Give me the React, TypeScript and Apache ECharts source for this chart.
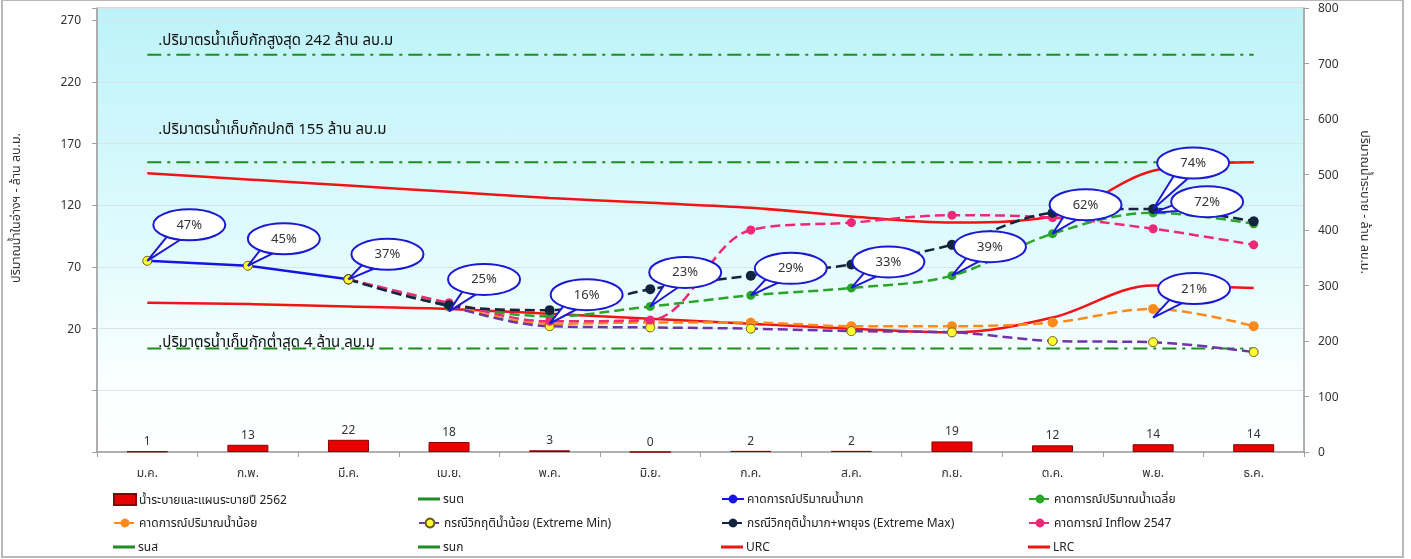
import React, { useEffect, useRef } from "react";
import * as echarts from "echarts";

// ---------- data ----------
const months = ["ม.ค.", "ก.พ.", "มี.ค.", "เม.ย.", "พ.ค.", "มิ.ย.", "ก.ค.", "ส.ค.", "ก.ย.", "ต.ค.", "พ.ย.", "ธ.ค."];
const release2562 = [1, 13, 22, 18, 3, 0, 2, 2, 19, 12, 14, 14];
const actualStorage = [75, 71, 60, null, null, null, null, null, null, null, null, null];
const extremeMax = [null, null, 60, 39, 35, 52, 63, 72, 88, 114, 117, 107];
const forecastAvg = [null, null, 60, 40, 30, 38, 47, 53, 63, 97, 114, 105];
const forecastLow = [null, null, 60, 39, 24, 25, 25, 22, 22, 25, 36, 22];
const extremeMin = [null, null, 60, 38, 22, 21, 20, 18, 17, 10, 9, 1];
const inflow2547 = [null, null, 60, 41, 26, 27, 100, 106, 112, 110, 101, 88];
const urc = [146, 141, 136, 131, 126, 122, 118, 111, 106, 111, 148, 155];
const lrc = [41, 40, 38, 36, 32, 28, 24, 20, 17, 29, 55, 53];
const rnsMax = [242, 242, 242, 242, 242, 242, 242, 242, 242, 242, 242, 242];
const rnkNormal = [155, 155, 155, 155, 155, 155, 155, 155, 155, 155, 155, 155];
const rntMin = [4, 4, 4, 4, 4, 4, 4, 4, 4, 4, 4, 4];

const bubbleMonths = [0, 1, 2, 3, 4, 5, 6, 7, 8, 9, 10, 10, 10];
const bubbleValues = [75, 71, 60, 34, 24, 38, 47, 53, 63, 97, 117, 114, 29];
const bubbleLabels = ["47%", "45%", "37%", "25%", "16%", "23%", "29%", "33%", "39%", "62%", "74%", "72%", "21%"];

const leftTicks = [20, 70, 120, 170, 220, 270];

const refTexts = [
  ".ปริมาตรน้ำเก็บกักสูงสุด 242 ล้าน ลบ.ม",
  ".ปริมาตรน้ำเก็บกักปกติ 155 ล้าน ลบ.ม",
  ".ปริมาตรน้ำเก็บกักต่ำสุด 4 ล้าน ลบ.ม",
];
const leftAxisName = "ปริมาณน้ำในอ่างฯ - ล้าน ลบ.ม.";
const rightAxisName = "ปริมาณน้ำระบาย - ล้าน ลบ.ม.";

// ---------- layout (pixel offsets, not data) ----------
const bubbleOffsets = [
  [42, -36], [36, -27], [39, -25], [35, -32], [37, -29], [35, -34], [40, -27],
  [37, -26], [38, -29], [33, -29], [40, -46], [54, -11], [41, -29],
];
const refTextDy = [-14, -33, -6];

const FONT = "Tahoma, 'Noto Sans Thai', 'Leelawadee UI', 'DejaVu Sans', 'Noto Sans', sans-serif";
const DASH_DOT = [14, 6, 3, 6];
const LINE_ICON = "path://M0,0H22V3H0Z";

const C = {
  bar: "#e80000",
  green: "#1e8c1e",
  blue: "#1414e6",
  navy: "#132440",
  avg: "#2aa52a",
  orange: "#ff8a1c",
  purple: "#6f35a8",
  pink: "#ec2a78",
  red: "#f01414",
  yellow: "#ffff33",
};

export default function App() {
  const ref = useRef<HTMLDivElement>(null);

  useEffect(() => {
    const chart = echarts.init(ref.current as HTMLDivElement, null, { renderer: "svg" });

    const lineSeries = (name: string, data: any[], color: string, opts: any = {}) => ({
      name,
      type: "line",
      data,
      yAxisIndex: 0,
      smooth: 0.35,
      symbol: "circle",
      symbolSize: 9,
      connectNulls: false,
      lineStyle: { color, width: 2.5, type: "dashed" },
      itemStyle: { color },
      ...opts,
    });

    const refLine = (name: string, data: number[]) => ({
      name,
      type: "line",
      data,
      yAxisIndex: 0,
      symbol: "none",
      lineStyle: { color: C.green, width: 2, type: DASH_DOT },
      itemStyle: { color: C.green },
      silent: true,
    });

    const legendItems = [
      { name: "น้ำระบายและแผนระบายปี 2562", left: 113, top: 493, icon: "rect" },
      { name: "รนต", left: 418, top: 493, icon: LINE_ICON },
      { name: "คาดการณ์ปริมาณน้ำมาก", left: 721, top: 493 },
      { name: "คาดการณ์ปริมาณน้ำเฉลี่ย", left: 1028, top: 493 },
      { name: "คาดการณ์ปริมาณน้ำน้อย", left: 113, top: 517 },
      { name: "กรณีวิกฤติน้ำน้อย (Extreme Min)", left: 418, top: 517 },
      { name: "กรณีวิกฤติน้ำมาก+พายุจร (Extreme Max)", left: 721, top: 517 },
      { name: "คาดการณ์ Inflow 2547", left: 1028, top: 517 },
      { name: "รนส", left: 113, top: 541, icon: LINE_ICON },
      { name: "รนก", left: 418, top: 541, icon: LINE_ICON },
      { name: "URC", left: 721, top: 541, icon: LINE_ICON },
      { name: "LRC", left: 1028, top: 541, icon: LINE_ICON },
    ];

    const legends = legendItems.map((it) => {
      const d: any = { name: it.name };
      if (it.icon) d.icon = it.icon;
      return {
        data: [d],
        left: it.left,
        top: it.top,
        itemWidth: 22,
        itemHeight: 11,
        itemGap: 0,
        padding: 0,
        selectedMode: false,
        textStyle: { fontFamily: FONT, fontSize: 12, color: "#222", padding: [0, 0, 0, -2] },
      };
    });

    const bubbleData = bubbleMonths.map((m, i) => [m, bubbleValues[i], bubbleLabels[i]]);

    const option: any = {
      animation: false,
      textStyle: { fontFamily: FONT },
      grid: {
        left: 97,
        right: 107,
        top: 8,
        bottom: 107,
        show: true,
        borderColor: "#b4b4b4",
        borderWidth: 1,
        backgroundColor: {
          type: "linear",
          x: 0, y: 0, x2: 0, y2: 1,
          colorStops: [
            { offset: 0, color: "#bcf3f9" },
            { offset: 0.55, color: "#e2fbfd" },
            { offset: 0.85, color: "#fbffff" },
            { offset: 1, color: "#ffffff" },
          ],
        },
      },
      legend: legends,
      xAxis: {
        type: "category",
        data: months,
        boundaryGap: true,
        axisLine: { onZero: false, lineStyle: { color: "#a0a0a0", width: 1.5 } },
        axisTick: { show: true, length: 5, lineStyle: { color: "#a0a0a0" } },
        axisLabel: { fontFamily: FONT, fontSize: 12, color: "#333", margin: 15 },
      },
      yAxis: [
        {
          type: "value",
          min: -80,
          max: 280,
          interval: 50,
          position: "left",
          axisLine: { show: true, onZero: false, lineStyle: { color: "#a0a0a0", width: 1.5 } },
          axisTick: { show: true, length: 5, lineStyle: { color: "#a0a0a0" } },
          axisLabel: {
            fontFamily: FONT,
            fontSize: 12,
            color: "#333",
            margin: 16,
            formatter: (v: number) => (leftTicks.includes(v) ? String(v) : ""),
          },
          splitLine: { show: true, lineStyle: { color: "#d8e4e6", width: 1 } },
        },
        {
          type: "value",
          min: 0,
          max: 800,
          interval: 100,
          position: "right",
          axisLine: { show: true, onZero: false, lineStyle: { color: "#a0a0a0", width: 1.5 } },
          axisTick: { show: true, length: 5, lineStyle: { color: "#a0a0a0" } },
          axisLabel: { fontFamily: FONT, fontSize: 12, color: "#333", margin: 14 },
          splitLine: { show: false },
        },
      ],
      series: [
        {
          name: "น้ำระบายและแผนระบายปี 2562",
          type: "bar",
          yAxisIndex: 1,
          data: release2562,
          barWidth: 41,
          itemStyle: { color: C.bar, borderColor: "#8a0000", borderWidth: 1 },
          label: { show: true, position: "top", distance: 4, fontFamily: FONT, fontSize: 12, color: "#333" },
        },
        refLine("รนส", rnsMax),
        refLine("รนก", rnkNormal),
        refLine("รนต", rntMin),
        {
          name: "URC",
          type: "line",
          yAxisIndex: 0,
          data: urc,
          smooth: 0.35,
          symbol: "none",
          lineStyle: { color: C.red, width: 2.5 },
          itemStyle: { color: C.red },
        },
        {
          name: "LRC",
          type: "line",
          yAxisIndex: 0,
          data: lrc,
          smooth: 0.35,
          symbol: "none",
          lineStyle: { color: C.red, width: 2.5 },
          itemStyle: { color: C.red },
        },
        lineSeries("คาดการณ์ปริมาณน้ำน้อย", forecastLow, C.orange, { symbolSize: 10 }),
        lineSeries("กรณีวิกฤติน้ำน้อย (Extreme Min)", extremeMin, C.purple, {
          itemStyle: { color: C.yellow, borderColor: "#6b5a1a", borderWidth: 1 },
          symbolSize: 9,
        }),
        lineSeries("คาดการณ์ปริมาณน้ำเฉลี่ย", forecastAvg, C.avg),
        lineSeries("คาดการณ์ Inflow 2547", inflow2547, C.pink),
        lineSeries("กรณีวิกฤติน้ำมาก+พายุจร (Extreme Max)", extremeMax, C.navy, { symbolSize: 10 }),
        {
          name: "คาดการณ์ปริมาณน้ำมาก",
          type: "line",
          yAxisIndex: 0,
          data: actualStorage.map((v) =>
            v == null ? null : { value: v, itemStyle: { color: C.yellow, borderColor: "#6b5a1a", borderWidth: 1 } }
          ),
          smooth: false,
          symbol: "circle",
          symbolSize: 9,
          lineStyle: { color: C.blue, width: 2.5, type: "solid" },
          itemStyle: { color: C.blue },
        },
        {
          name: "bubbles",
          type: "custom",
          yAxisIndex: 0,
          z: 10,
          silent: true,
          clip: false,
          data: bubbleData,
          encode: { x: 0, y: 1 },
          renderItem: (params: any, api: any) => {
            const i = params.dataIndex;
            const p = api.coord([api.value(0), api.value(1)]);
            const off = bubbleOffsets[i];
            const cx = p[0] + off[0];
            const cy = p[1] + off[1];
            const rx = 36;
            const ry = 15.5;
            const ang = Math.atan2((p[1] - cy) / ry, (p[0] - cx) / rx);
            const a1 = ang - 0.24;
            const a2 = ang + 0.24;
            const b1 = [cx + rx * 0.92 * Math.cos(a1), cy + ry * 0.92 * Math.sin(a1)];
            const b2 = [cx + rx * 0.92 * Math.cos(a2), cy + ry * 0.92 * Math.sin(a2)];
            const stroke = "#1a1ad2";
            return {
              type: "group",
              children: [
                { type: "polygon", shape: { points: [b1, p, b2] }, style: { fill: "#fff", stroke, lineWidth: 2 } },
                { type: "ellipse", shape: { cx, cy, rx, ry }, style: { fill: "#fff", stroke, lineWidth: 2 } },
                { type: "polygon", shape: { points: [b1, [p[0] * 0.15 + cx * 0.85, p[1] * 0.15 + cy * 0.85], b2] }, style: { fill: "#fff" } },
                {
                  type: "text",
                  style: {
                    text: bubbleLabels[i],
                    x: cx,
                    y: cy,
                    align: "center",
                    verticalAlign: "middle",
                    fontFamily: FONT,
                    fontSize: 13,
                    fill: "#333",
                  },
                },
              ],
            };
          },
        },
      ],
    };

    chart.setOption(option);

    const refVals = [rnsMax[0], rnkNormal[0], rntMin[0]];
    const texts = refVals.map((v, i) => {
      const p = chart.convertToPixel({ xAxisIndex: 0, yAxisIndex: 0 }, [0, v]) as number[];
      return {
        type: "text",
        x: p[0] + 11,
        y: p[1] + refTextDy[i],
        z: 20,
        style: {
          text: refTexts[i],
          fontFamily: FONT,
          fontSize: 15,
          fill: "#111",
          verticalAlign: "middle",
        },
      };
    });
    chart.setOption({
      graphic: [
        {
          type: "rect",
          shape: { x: 2, y: 0, width: 1401, height: 557 },
          style: { fill: "none", stroke: "#b8b8b8", lineWidth: 2 },
          z: 0,
        },
        {
          type: "text",
          x: 16,
          y: 208,
          rotation: Math.PI / 2,
          style: { text: leftAxisName, fontFamily: FONT, fontSize: 12.5, fill: "#333", align: "center", verticalAlign: "middle" },
        },
        {
          type: "text",
          x: 1364,
          y: 202,
          rotation: -Math.PI / 2,
          style: { text: rightAxisName, fontFamily: FONT, fontSize: 12.5, fill: "#333", align: "center", verticalAlign: "middle" },
        },
        ...texts,
      ],
    });

    return () => chart.dispose();
  }, []);

  return <div ref={ref} style={{ position: "fixed", left: 0, top: 0, width: 1411, height: 559 }} />;
}
